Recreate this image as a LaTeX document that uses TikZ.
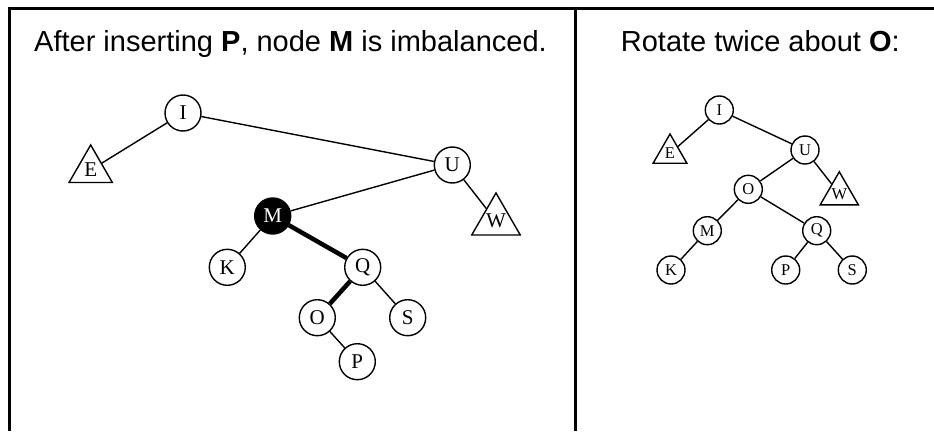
\documentclass[tikz,border=0pt]{standalone}
\usepackage{fontspec}
\setmainfont{Liberation Serif}
\newfontfamily\headfont{Liberation Sans}
\usetikzlibrary{shapes.geometric}
\tikzset{
  key/.style={circle,draw,line width=1.4pt,fill=white,minimum size=36pt,inner sep=0pt,font=\fontsize{21}{21}\selectfont},
  keysm/.style={key,minimum size=28pt,font=\fontsize{16.5}{16.5}\selectfont},
  hot/.style={key,fill=black,text=white},
  sub/.style={regular polygon,regular polygon sides=3,draw,line width=1.4pt,fill=white,minimum size=50pt,inner sep=0pt,font=\fontsize{21}{21}\selectfont},
  subsm/.style={sub,minimum size=39pt,font=\fontsize{16.5}{16.5}\selectfont},
  link/.style={line width=1.4pt},
  heavy/.style={line width=4.5pt},
  rule/.style={line width=3pt},
  head/.style={anchor=base west,inner sep=0pt,font=\headfont\fontsize{29}{34}\selectfont}
}
\begin{document}
\begin{tikzpicture}[x=1pt,y=-1pt]
  \useasboundingbox (0,0) rectangle (934,431);
  % table frame
  \draw[rule] (9.5,431) -- (9.5,8.5) -- (934,8.5);
  \draw[rule] (575,8.5) -- (575,431);
  \node[head] (hl) at (34,51.7) {After inserting \textbf{P}, node \textbf{M} is imbalanced.};
  \node[head] (hr) at (620.7,51.7) {Rotate twice about \textbf{O}:};

  % before: M out of balance
  \node[key] (i1) at (183,113) {I};
  \node[sub] (e1) at (90.7,170) {E};
  \node[key] (u1) at (452.3,165) {U};
  \node[sub] (w1) at (496,221) {W};
  \node[hot] (m1) at (272.7,216) {M};
  \node[key] (k1) at (227.3,267.3) {K};
  \node[key] (q1) at (362.7,267.3) {Q};
  \node[key] (o1) at (317.3,317.7) {O};
  \node[key] (s1) at (407.7,317.7) {S};
  \node[key] (p1) at (357.3,361.7) {P};
  \draw[link] (i1) -- (e1); \draw[link] (i1) -- (u1);
  \draw[link] (u1) -- (m1); \draw[link] (u1) -- (w1);
  \draw[link] (m1) -- (k1); \draw[heavy] (m1) -- (q1);
  \draw[heavy] (q1) -- (o1); \draw[link] (q1) -- (s1);
  \draw[link] (o1) -- (p1);

  % after the double rotation
  \node[keysm] (i2) at (719.3,110) {I};
  \node[subsm] (e2) at (670,153.5) {E};
  \node[keysm] (u2) at (805,150) {U};
  \node[subsm] (w2) at (839.3,193.8) {W};
  \node[keysm] (o2) at (748.3,189.3) {O};
  \node[keysm] (m2) at (707.3,230.7) {M};
  \node[keysm] (q2) at (816.7,230.7) {Q};
  \node[keysm] (k2) at (671,270) {K};
  \node[keysm] (p2) at (785.7,270) {P};
  \node[keysm] (s2) at (852.3,270) {S};
  \draw[link] (i2) -- (e2); \draw[link] (i2) -- (u2);
  \draw[link] (u2) -- (o2); \draw[link] (u2) -- (w2);
  \draw[link] (o2) -- (m2); \draw[link] (o2) -- (q2);
  \draw[link] (m2) -- (k2); \draw[link] (q2) -- (p2);
  \draw[link] (q2) -- (s2);
\end{tikzpicture}
\end{document}
